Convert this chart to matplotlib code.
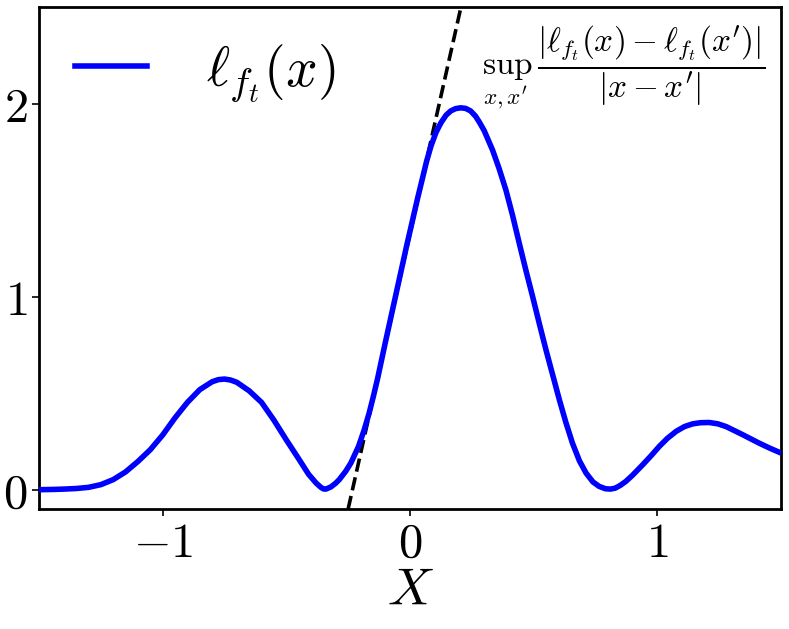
import matplotlib
matplotlib.use("Agg")
import matplotlib.pyplot as plt

plt.rcParams['mathtext.fontset'] = 'cm'
plt.rcParams['font.family'] = ['DejaVu Serif']

# curve values
x_vals = [-1.50, -1.45, -1.40, -1.35, -1.30, -1.25, -1.20, -1.15, -1.10, -1.05,
          -1.00, -0.95, -0.90, -0.85, -0.80, -0.775, -0.75, -0.725, -0.70, -0.65,
          -0.60, -0.55, -0.50, -0.45, -0.41, -0.38, -0.36, -0.35, -0.34, -0.32,
          -0.30, -0.286, -0.26, -0.239, -0.208, -0.185, -0.165, -0.148, -0.131, -0.10,
          -0.057, -0.014, 0.031, 0.05, 0.067, 0.085, 0.105, 0.125, 0.146, 0.165,
          0.185, 0.205, 0.225, 0.245, 0.265, 0.28, 0.30, 0.334, 0.36, 0.388,
          0.415, 0.442, 0.47, 0.496, 0.525, 0.55, 0.578, 0.604, 0.63, 0.657,
          0.685, 0.712, 0.74, 0.765, 0.79, 0.81, 0.83, 0.85, 0.873, 0.90,
          0.941, 0.975, 1.008, 1.04, 1.076, 1.11, 1.143, 1.175, 1.21, 1.245,
          1.278, 1.31, 1.345, 1.38, 1.412, 1.455, 1.50]
y_vals = [0.0, 0.001, 0.003, 0.006, 0.012, 0.026, 0.052, 0.092, 0.146, 0.207,
          0.283, 0.372, 0.452, 0.518, 0.559, 0.570, 0.573, 0.568, 0.556, 0.512,
          0.452, 0.360, 0.258, 0.160, 0.080, 0.035, 0.012, 0.004, 0.003, 0.014,
          0.034, 0.052, 0.095, 0.138, 0.224, 0.310, 0.397, 0.483, 0.575, 0.760,
          1.010, 1.260, 1.510, 1.610, 1.700, 1.780, 1.850, 1.900, 1.940, 1.962,
          1.974, 1.978, 1.975, 1.962, 1.935, 1.905, 1.860, 1.759, 1.665, 1.552,
          1.420, 1.276, 1.130, 1.000, 0.850, 0.724, 0.590, 0.466, 0.350, 0.241,
          0.150, 0.086, 0.040, 0.017, 0.005, 0.003, 0.008, 0.022, 0.043, 0.075,
          0.129, 0.176, 0.224, 0.265, 0.302, 0.327, 0.341, 0.347, 0.348, 0.341,
          0.327, 0.307, 0.285, 0.262, 0.241, 0.215, 0.190]

# Lipschitz bound line (endpoints)
lip_x = [-0.25, 0.215]
lip_y = [-0.1, 2.55]

x_ticks = [-1, 0, 1]
x_tick_labels = [r'$-1$', r'$0$', r'$1$']
y_ticks = [0, 1, 2]
y_tick_labels = [r'$0$', r'$1$', r'$2$']

fig = plt.figure(figsize=(7.89, 6.29), dpi=100)
ax = fig.add_axes([0.0494, 0.1908, 0.9404, 0.798])

ax.plot(lip_x, lip_y, color='black', linestyle='--', linewidth=2.6, zorder=2)
ax.plot(x_vals, y_vals, color='blue', linewidth=4, label=r'$\ell_{f_t}(x)$', zorder=3,
        solid_joinstyle='round')

ax.set_xlim(-1.5, 1.5)
ax.set_ylim(-0.1, 2.5)
ax.set_xticks(x_ticks)
ax.set_xticklabels(x_tick_labels)
ax.set_yticks(y_ticks)
ax.set_yticklabels(y_tick_labels)
ax.tick_params(axis='both', direction='out', length=5, width=1.2, labelsize=35, pad=3)
for s in ax.spines.values():
    s.set_linewidth(2)

ax.set_xlabel(r'$X$', fontsize=38, labelpad=-2)

ax.text(0.292, 2.19, r"$\sup_{x,x'}\,\dfrac{|\ell_{f_t}(x)-\ell_{f_t}(x')|}{|x-x'|}$",
        fontsize=24, ha='left', va='center')

ax.legend(loc='upper left', frameon=False, fontsize=40, handlelength=1.3,
          handletextpad=1.05, borderaxespad=0.25)

fig.savefig('out.png', dpi=100)
